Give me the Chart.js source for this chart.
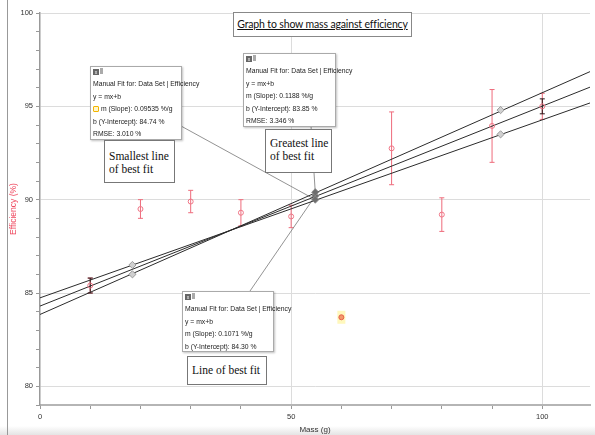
<!DOCTYPE html>
<html lang="en">
<head>
<meta charset="UTF-8">
<title>Graph to show mass against efficiency</title>
<script src="https://cdn.jsdelivr.net/npm/chart.js"></script>
<style>
  body { margin: 0; background: #fff; }
  .wrap { position: relative; width: 595px; height: 435px; overflow: hidden; background: #fff; }
  #massChart { position: absolute; left: 0; top: 0; }
  .frame { position: absolute; left: 7px; top: 0; width: 1px; height: 435px; background: #999; }
  .shade { position: absolute; left: 0; top: 426px; width: 595px; height: 9px; background: linear-gradient(#fff, #e4e4e4); }
  .title {
    position: absolute; left: 233px; top: 12px; width: 177px; height: 23px;
    border: 1px solid #888; background: #fff;
    font: 10.5px Lato, "Open Sans", sans-serif; color: #111; letter-spacing: -0.15px;
    text-align: center; line-height: 23px; white-space: nowrap;
  }
  .title span { text-decoration: underline; }
  .fitbox {
    position: absolute; background: #fff; border: 1px solid #aaa;
    box-shadow: 1px 1px 2px rgba(0,0,0,0.25);
    font: 6.8px "Liberation Sans Narrow", "Liberation Sans", Arial, sans-serif; color: #222;
    box-sizing: border-box; padding: 1px 2px;
  }
  .fitbox .icons { height: 7px; margin-bottom: 3px; }
  .fitbox .icons b { display: inline-block; width: 6px; height: 6px; background: #666; color: #fff; font-size: 5px; line-height: 6px; text-align: center; font-weight: normal; }
  .fitbox .icons i { display: inline-block; width: 3px; height: 6px; background: #aaa; margin-left: 1px; }
  .fitbox div.row { height: 12.5px; line-height: 12.5px; white-space: nowrap; }
  .sel { display: inline-block; width: 4px; height: 4px; border: 1px solid #f2b400; border-radius: 1px; background: #fff6cc; margin-right: 2px; vertical-align: -1px; }
  .note {
    position: absolute; background: #fff; border: 1px solid #777;
    font: 11.5px "Liberation Serif", "DejaVu Serif", serif; color: #111;
    box-sizing: border-box; padding: 5px 4px; line-height: 13px; white-space: nowrap;
  }
</style>
</head>
<body>
<div class="wrap">
  <div class="shade"></div>
  <div class="frame"></div>
  <canvas id="massChart" width="595" height="435"></canvas>

  <div class="title"><span>Graph to show mass against efficiency</span></div>

  <div class="fitbox" style="left:90px;top:66px;width:92px;height:74px">
    <div class="icons"><b>x</b><i></i></div>
    <div class="row">Manual Fit for: Data Set | Efficiency</div>
    <div class="row">y = mx+b</div>
    <div class="row"><span class="sel"></span>m (Slope): 0.09535 %/g</div>
    <div class="row">b (Y-Intercept): 84.74 %</div>
    <div class="row">RMSE: 3.010 %</div>
  </div>

  <div class="fitbox" style="left:243px;top:53px;width:93px;height:74px">
    <div class="icons"><b>x</b><i></i></div>
    <div class="row">Manual Fit for: Data Set | Efficiency</div>
    <div class="row">y = mx+b</div>
    <div class="row">m (Slope): 0.1188 %/g</div>
    <div class="row">b (Y-Intercept): 83.85 %</div>
    <div class="row">RMSE: 3.346 %</div>
  </div>

  <div class="fitbox" style="left:182px;top:291px;width:92px;height:61px">
    <div class="icons"><b>x</b><i></i></div>
    <div class="row">Manual Fit for: Data Set | Efficiency</div>
    <div class="row">y = mx+b</div>
    <div class="row">m (Slope): 0.1071 %/g</div>
    <div class="row">b (Y-Intercept): 84.30 %</div>
  </div>

  <div class="note" style="left:104px;top:140px;width:71px;height:43px;padding-top:9px">Smallest line<br>of best fit</div>
  <div class="note" style="left:265px;top:129px;width:67px;height:44px;padding-top:7px">Greatest line<br>of best fit</div>
  <div class="note" style="left:187px;top:356px;width:80px;height:29px;padding-top:7px">Line of best fit</div>
</div>

<script>
  // measured points (mass in g, efficiency in %)
  const massValues = [10, 20, 30, 40, 50, 60, 70, 80, 90, 100];
  const effValues = [85.4, 89.5, 89.9, 89.3, 89.1, 83.7, 92.75, 89.2, 93.95, 95.0];
  const errValues = [0.4, 0.5, 0.6, 0.7, 0.6, 0, 1.95, 0.9, 1.95, 0.7];
  const darkErr = [0.4, null, null, null, null, null, null, null, null, 0.4];

  // manual fits: smallest, best, greatest
  const fitNames = ['Smallest', 'Best', 'Greatest'];
  const fitSlope = [0.09535, 0.1071, 0.1188];
  const fitIntercept = [84.74, 84.30, 83.85];
  const fitRange = [0, 110];

  // drag handles shown on the fit lines
  const handleX = [18.4, 54.8, 91.7];
  const handleSmallest = [86.5, 90.0, 93.5];
  const handleGreatest = [86.0, 90.4, 94.8];
  const handleBest = [90.2];

  const yTicks = [80, 85, 90, 95, 100];
  const xTicks = [0, 50, 100];

  const points = massValues.map((m, i) => ({ x: m, y: effValues[i] }));

  const fitSets = fitNames.map((name, i) => ({
    label: name + ' fit',
    data: fitRange.map(x => ({ x: x, y: fitSlope[i] * x + fitIntercept[i] })),
    showLine: true,
    borderColor: '#2b2b2b',
    borderWidth: 1,
    pointRadius: 0,
    order: 3
  }));

  const handleStyle = {
    pointStyle: 'rectRot',
    pointRadius: 3.6,
    borderWidth: 0.8,
    borderColor: '#8a8a8a',
    showLine: false,
    order: 2
  };

  const errorBars = {
    id: 'errorBars',
    beforeDatasetsDraw(chart) {
      const { ctx, scales: { x, y } } = chart;
      ctx.save();
      ctx.lineWidth = 1;
      massValues.forEach((m, i) => {
        const px = x.getPixelForValue(m);
        const bars = [[errValues[i], '#ee6b7b']];
        if (darkErr[i]) bars.push([darkErr[i], '#2a1416']);
        bars.forEach(([e, col]) => {
          if (!e) return;
          const top = y.getPixelForValue(effValues[i] + e);
          const bot = y.getPixelForValue(effValues[i] - e);
          ctx.strokeStyle = col;
          ctx.beginPath();
          ctx.moveTo(px, top); ctx.lineTo(px, bot);
          ctx.moveTo(px - 2.5, top); ctx.lineTo(px + 2.5, top);
          ctx.moveTo(px - 2.5, bot); ctx.lineTo(px + 2.5, bot);
          ctx.stroke();
        });
      });
      // highlighted point at 60 g
      const hx = x.getPixelForValue(massValues[5]);
      const hy = y.getPixelForValue(effValues[5]);
      ctx.fillStyle = '#fff8bd';
      ctx.fillRect(hx - 4, hy - 6.5, 8, 13);

      // leader lines from the fit boxes
      ctx.strokeStyle = '#777';
      ctx.lineWidth = 0.8;
      const leaders = [
        [181, 126, handleX[1], handleSmallest[1]],
        [311, 126, handleX[1], handleGreatest[1]],
        [250, 291, handleX[1], handleBest[0]]
      ];
      leaders.forEach(([bx, by, dx, dy]) => {
        ctx.beginPath();
        ctx.moveTo(bx, by);
        ctx.lineTo(x.getPixelForValue(dx), y.getPixelForValue(dy));
        ctx.stroke();
      });
      ctx.restore();
    }
  };

  Chart.defaults.font.family = '"Liberation Sans Narrow", "Liberation Sans", Arial, sans-serif';

  new Chart(document.getElementById('massChart'), {
    type: 'scatter',
    data: {
      datasets: [
        {
          label: 'Efficiency',
          data: points,
          pointStyle: 'circle',
          pointRadius: 2.5,
          borderWidth: 1,
          borderColor: ctx => ctx.dataIndex === 5 ? '#e8604a' : '#ef7586',
          backgroundColor: ctx => ctx.dataIndex === 5 ? '#f29a6a' : 'rgba(255,255,255,0)',
          order: 1
        },
        Object.assign({ label: 'Smallest handles', data: handleX.map((x, i) => ({ x: x, y: handleSmallest[i] })),
          backgroundColor: ['#d0d0d0', '#6e6e6e', '#d0d0d0'] }, handleStyle),
        Object.assign({ label: 'Greatest handles', data: handleX.map((x, i) => ({ x: x, y: handleGreatest[i] })),
          backgroundColor: ['#d0d0d0', '#6e6e6e', '#d0d0d0'] }, handleStyle),
        Object.assign({ label: 'Best handle', data: [{ x: handleX[1], y: handleBest[0] }],
          backgroundColor: '#6e6e6e' }, handleStyle),
        ...fitSets
      ]
    },
    options: {
      responsive: false,
      animation: false,
      layout: { padding: { top: 13, right: 0, left: 0, bottom: 0 } },
      plugins: { legend: { display: false }, tooltip: { enabled: false } },
      scales: {
        x: {
          type: 'linear', min: 0, max: 109.5,
          afterFit(s) { s.height = 30; },
          ticks: {
            stepSize: 10, autoSkip: false, maxRotation: 0, padding: 3,
            color: '#333', font: { size: 7.5 },
            callback: v => xTicks.includes(v) ? v : ''
          },
          grid: {
            color: c => (c.tick && c.tick.value > 0 && xTicks.includes(c.tick.value)) ? '#dcdcdc' : 'rgba(0,0,0,0)',
            tickColor: c => (c.tick && c.tick.value > 100) ? 'rgba(0,0,0,0)' : '#999',
            tickLength: 4
          },
          border: { color: '#b5b5b5', width: 2 },
          title: { display: true, text: 'Mass (g)', color: '#333', font: { size: 8 }, padding: { top: 0, bottom: 0 } }
        },
        y: {
          type: 'linear', min: 79, max: 100,
          afterFit(s) { s.width = 40; },
          ticks: {
            stepSize: 1, autoSkip: false, padding: 3,
            color: '#333', font: { size: 7.5 },
            callback: v => yTicks.includes(v) ? v : ''
          },
          grid: {
            color: c => (c.tick && yTicks.includes(c.tick.value)) ? '#dcdcdc' : 'rgba(0,0,0,0)',
            tickColor: '#999',
            tickLength: 4
          },
          border: { color: '#999', width: 1.5 },
          title: { display: true, text: 'Efficiency (%)', color: '#ef4a60', font: { size: 8.5 }, padding: { top: 9, bottom: 4 } }
        }
      }
    },
    plugins: [errorBars]
  });
</script>
</body>
</html>
